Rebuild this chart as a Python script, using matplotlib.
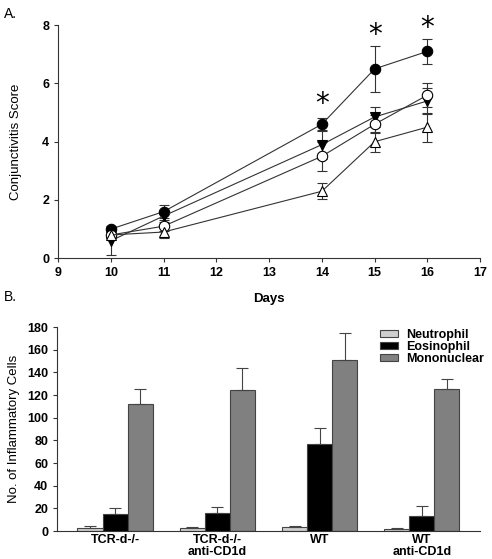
import matplotlib
matplotlib.use("Agg")
import matplotlib.pyplot as plt
import numpy as np

plt.rcParams['font.family'] = ['Liberation Sans', 'DejaVu Sans']

# Panel A data
days = [10, 11, 14, 15, 16]
filled_circle = [1.0, 1.6, 4.6, 6.5, 7.1]
filled_circle_err = [0.05, 0.22, 0.22, 0.8, 0.42]
down_tri = [0.6, 1.45, 3.9, 4.85, 5.4]
down_tri_err = [0.5, 0.15, 0.5, 0.35, 0.45]
open_circle = [0.8, 1.1, 3.5, 4.6, 5.6]
open_circle_err = [0.1, 0.15, 0.5, 0.3, 0.42]
up_tri = [0.8, 0.9, 2.3, 4.0, 4.5]
up_tri_err = [0.1, 0.2, 0.28, 0.35, 0.5]
star_days = [14, 15, 16]
star_y = [5.3, 7.65, 7.9]
a_xticks = [9, 10, 11, 12, 13, 14, 15, 16, 17]
a_yticks = [0, 2, 4, 6, 8]

# Panel B data
groups = ["TCR-d-/-", "TCR-d-/-\nanti-CD1d", "WT", "WT\nanti-CD1d"]
neutrophil = [3, 2.5, 4, 2]
neutrophil_err = [1.5, 1.0, 0.6, 0.6]
eosinophil = [15, 15.5, 77, 13]
eosinophil_err = [5, 5.5, 14, 9]
mononuclear = [112, 124, 151, 125]
mononuclear_err = [13, 20, 24, 9]
b_yticks = [0, 20, 40, 60, 80, 100, 120, 140, 160, 180]

fig = plt.figure(figsize=(4.92, 5.59), dpi=100)

# ---- Panel A ----
axA = fig.add_axes([0.118, 0.538, 0.858, 0.417])
series = [
    (filled_circle, filled_circle_err, 'o', 'black'),
    (down_tri, down_tri_err, 'v', 'black'),
    (open_circle, open_circle_err, 'o', 'white'),
    (up_tri, up_tri_err, '^', 'white'),
]
for vals, errs, mk, fc in series:
    axA.errorbar(days, vals, yerr=errs, marker=mk, markersize=7.5, mfc=fc, mec='black',
                 mew=0.8, color='#333333', lw=0.8, ecolor='#333333', elinewidth=0.8,
                 capsize=3.5, capthick=0.8)
for d, y in zip(star_days, star_y):
    axA.text(d, y, '*', ha='center', va='center', fontsize=20, fontweight='normal',
             family='DejaVu Sans')
axA.set_xlim(9, 17)
axA.set_ylim(0, 8)
axA.set_xticks(a_xticks)
axA.set_yticks(a_yticks)
axA.spines['top'].set_visible(False)
axA.spines['right'].set_visible(False)
for s in ['left', 'bottom']:
    axA.spines[s].set_linewidth(0.8)
    axA.spines[s].set_color('#333333')
axA.tick_params(direction='out', length=3, width=0.8, labelsize=9, colors='#333333', labelcolor='black')
for lab in axA.get_xticklabels() + axA.get_yticklabels():
    lab.set_fontweight('bold')
axA.set_xlabel('Days', fontsize=9.5, fontweight='bold', labelpad=10)
axA.set_ylabel('Conjunctivitis Score', fontsize=9.5, labelpad=14)
fig.text(0.008, 0.975, 'A.', fontsize=10, ha='left', va='center')

# ---- Panel B ----
axB = fig.add_axes([0.116, 0.05, 0.86, 0.365])
x = np.arange(len(groups))
w = 0.245
ek = dict(ecolor='#444444', elinewidth=0.8, capsize=4, capthick=0.8)
axB.bar(x - w, neutrophil, w, color='#cfcfcf', edgecolor='#444444', linewidth=0.8,
        yerr=[np.zeros(4), neutrophil_err], error_kw=ek, label='Neutrophil')
axB.bar(x, eosinophil, w, color='black', edgecolor='#444444', linewidth=0.8,
        yerr=[np.zeros(4), eosinophil_err], error_kw=ek, label='Eosinophil')
axB.bar(x + w, mononuclear, w, color='#808080', edgecolor='#444444', linewidth=0.8,
        yerr=[np.zeros(4), mononuclear_err], error_kw=ek, label='Mononuclear')
axB.set_xlim(-0.567, 3.57)
axB.set_ylim(0, 180)
axB.set_yticks(b_yticks)
axB.set_xticks(x)
axB.set_xticklabels(groups, linespacing=1.0)
axB.tick_params(axis='x', length=0, pad=2)
axB.tick_params(axis='y', direction='out', length=3, width=0.8, colors='#333333', labelcolor='black')
axB.tick_params(labelsize=9)
for lab in axB.get_xticklabels() + axB.get_yticklabels():
    lab.set_fontweight('bold')
axB.spines['top'].set_visible(False)
axB.spines['right'].set_visible(False)
for s in ['left', 'bottom']:
    axB.spines[s].set_linewidth(0.8)
    axB.spines[s].set_color('#333333')
axB.set_ylabel('No. of Inflammatory Cells', fontsize=9.5, labelpad=5)
leg = axB.legend(loc='upper right', bbox_to_anchor=(1.035, 1.045), frameon=False,
                 prop={'size': 9, 'weight': 'bold'}, handlelength=1.5, handleheight=0.55,
                 labelspacing=0.0, handletextpad=0.6)
fig.text(0.008, 0.468, 'B.', fontsize=10, ha='left', va='center')

fig.savefig('out.png', dpi=100)
